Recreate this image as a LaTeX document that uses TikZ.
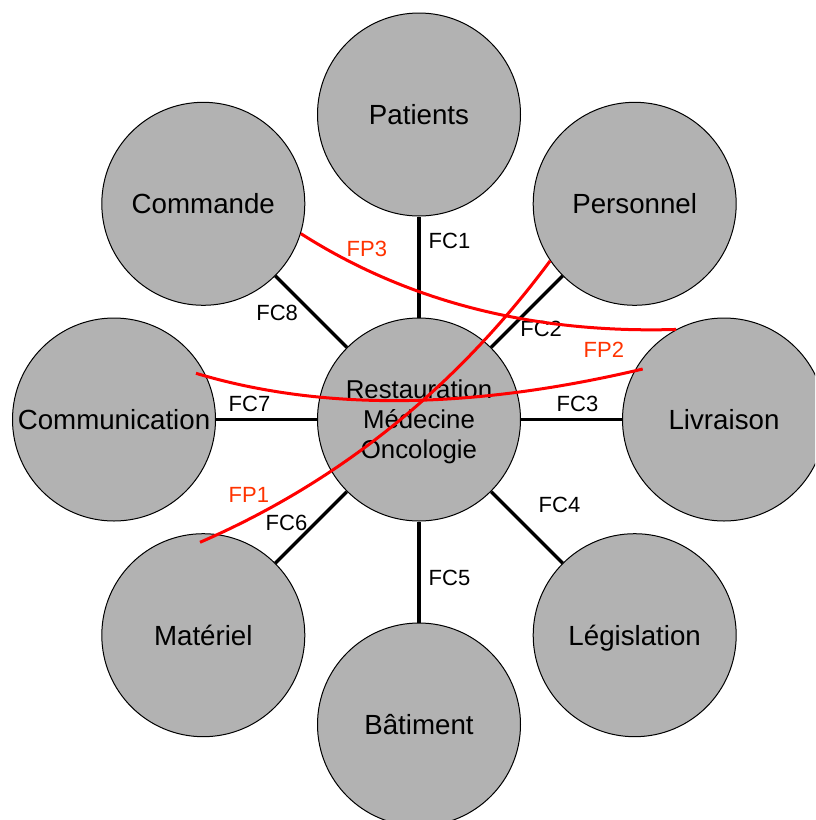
\documentclass[tikz,border=0pt]{standalone}
\usepackage{fontspec}
\setmainfont{Liberation Sans}
\definecolor{disc}{HTML}{B2B2B2}
\definecolor{fpred}{HTML}{FF0000}
\definecolor{fptext}{HTML}{FF3300}
\tikzset{
  disc/.style={circle, draw=black, line width=1pt, fill=disc, minimum size=203pt, inner sep=0pt,
    font=\fontsize{27.7}{33}\selectfont, text height=19.8pt, text depth=0pt},
  hub/.style={circle, draw=black, line width=1pt, fill=disc, minimum size=203pt, inner sep=0pt,
    font=\fontsize{25.8}{30}\selectfont, align=center, text depth=0pt},
  conn/.style={draw=black, line width=3.4pt},
  fclab/.style={anchor=base west, inner sep=0pt, font=\fontsize{22}{26}\selectfont},
  fplab/.style={anchor=base west, inner sep=0pt, font=\fontsize{22}{26}\selectfont, text=fptext},
  fpline/.style={draw=fpred, line width=3pt}
}
\begin{document}
\begin{tikzpicture}[x=1pt,y=-1pt]
\clip (0,0) rectangle (815,820);
\fill[white] (0,0) rectangle (815,820);
% discs
\node[disc] (pat) at (419,114.5) {Patients};
\node[disc] (per) at (634.7,203.8) {Personnel};
\node[disc] (liv) at (724,419.5) {Livraison};
\node[disc] (leg) at (634.7,635.2) {Législation};
\node[disc] (bat) at (419,724.5) {Bâtiment};
\node[disc] (mat) at (203.3,635.2) {Matériel};
\node[disc] (com) at (114,419.5) {Communication};
\node[disc] (cmd) at (203.3,203.8) {Commande};
\node[hub] (hub) at (419,419.5) {Restauration\\Médecine\\Oncologie};
% connectors
\draw[conn] (hub) -- (pat);
\draw[conn] (hub) -- (per);
\draw[conn] (hub) -- (liv);
\draw[conn] (hub) -- (leg);
\draw[conn] (hub) -- (bat);
\draw[conn] (hub) -- (mat);
\draw[conn] (hub) -- (com);
\draw[conn] (hub) -- (cmd);
% FC labels
\node[fclab] (fc1) at (428.5,248) {FC1};
\node[fclab] (fc2) at (520.2,336.7) {FC2};
\node[fclab] (fc3) at (556.5,411.7) {FC3};
\node[fclab] (fc4) at (538.5,512) {FC4};
\node[fclab] (fc5) at (428.5,585) {FC5};
\node[fclab] (fc6) at (265.5,530.7) {FC6};
\node[fclab] (fc7) at (228.5,411.7) {FC7};
\node[fclab] (fc8) at (256.2,320.7) {FC8};
% FP curves
\coordinate (fp3a) at (cmd.-17);
\coordinate (fp3b) at (liv.118);
\coordinate (fp2a) at (196,373.3);
\coordinate (fp2b) at (642.7,369);
\coordinate (fp1a) at (200,542.3);
\coordinate (fp1b) at (per.214);
\draw[fpline] (fp3a) .. controls (406.9,301.3) and (532,333.7) .. (fp3b);
\draw[fpline] (fp2a) .. controls (322,411.1) and (470.9,409.7) .. (fp2b);
\draw[fpline] (fp1a) .. controls (338.7,482.1) and (455.6,388.3) .. (fp1b);
\node[fplab] (fp1) at (228.5,502.7) {FP1};
\node[fplab] (fp2) at (583.5,357.3) {FP2};
\node[fplab] (fp3) at (346.5,256.7) {FP3};
\end{tikzpicture}
\end{document}
